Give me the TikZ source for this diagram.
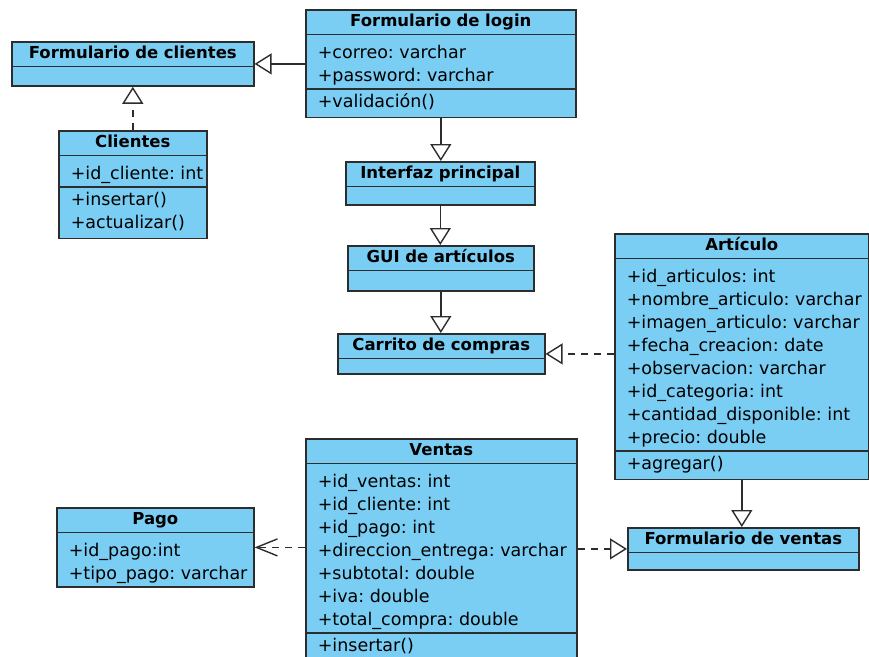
\documentclass[tikz,border=0pt]{standalone}
\usepackage{fontspec}
\setmainfont{DejaVu Sans}
\usetikzlibrary{positioning,shapes.multipart,arrows.meta}

\definecolor{classfill}{RGB}{122,206,244}
\definecolor{classdraw}{RGB}{45,45,45}

\newcommand{\nohyph}{\hyphenpenalty=10000\relax\exhyphenpenalty=10000\relax\spaceskip=\fontdimen2\font\relax}
\newcommand{\classname}[1]{\makebox[\linewidth]{\fontsize{16.5}{20}\selectfont\bfseries\rule[-7pt]{0pt}{23pt}#1}}
\newcommand{\firstrow}{\rule{0pt}{23pt}}
\newcommand{\lastrow}{\rule[-7pt]{0pt}{0pt}}
\newcommand{\firstop}{\rule{0pt}{18pt}}
\newcommand{\lastop}{\rule[-9pt]{0pt}{0pt}}
\newcommand{\nomembers}[1][19pt]{\rule{0pt}{#1}}

\begin{document}
\begin{tikzpicture}[
            x=1pt, y=-1pt,
            umlclass/.style={rectangle split, rectangle split parts=3, draw=classdraw, fill=classfill,
              line width=1.6pt, anchor=north west, inner xsep=12pt, inner ysep=0pt, align=flush left,
              font=\fontsize{17.5}{23}\selectfont\nohyph},
            umlform/.style={umlclass, rectangle split parts=2},
            inherit/.style={draw=classdraw, line width=1.4pt, -{Triangle[open, length=17pt, width=21pt]}},
            realize/.style={inherit, dash pattern=on 7pt off 6pt},
            uses/.style={draw=classdraw, line width=1.4pt, dash pattern=on 7pt off 6pt,
              -{Straight Barb[length=21pt, width=17pt]}}
        ]
            \useasboundingbox (0,0) rectangle (869,656);
            \clip (0,0) rectangle (869,656);

            % Classes (top left corner at the pixel position)
            \node[umlform, text width=218pt] (fclientes) at (11,41)
                {\classname{Formulario de clientes}\nodepart{two}\nomembers[18pt]};
            \node[umlclass, text width=124pt] (clientes) at (58,130)
                {\classname{Clientes}
                 \nodepart{two}\firstrow+id\_cliente:~int\lastrow
                 \nodepart{three}\firstop+insertar()\\+actualizar()\lastop};
            \node[umlclass, text width=246pt] (login) at (305,9)
                {\classname{Formulario de login}
                 \nodepart{two}\firstrow+correo:~varchar\\+password:~varchar\lastrow
                 \nodepart{three}\firstop+validación()\lastop};
            \node[umlform, text width=165pt] (interfaz) at (345,161)
                {\classname{Interfaz principal}\nodepart{two}\nomembers[17pt]};
            \node[umlform, text width=162pt] (gui) at (347,245)
                {\classname{GUI de artículos}\nodepart{two}\nomembers};
            \node[umlform, text width=183pt] (carrito) at (337,333)
                {\classname{Carrito de compras}\nodepart{two}\nomembers[14pt]};
            \node[umlclass, text width=230pt] (articulo) at (614,233)
                {\classname{Artículo}
                 \nodepart{two}\firstrow+id\_articulos:~int\\
                   +nombre\_articulo:~varchar\\
                   +imagen\_articulo:~varchar\\
                   +fecha\_creacion:~date\\
                   +observacion:~varchar\\
                   +id\_categoria:~int\\
                   +cantidad\_disponible:~int\\
                   +precio:~double\lastrow
                 \nodepart{three}\firstop+agregar()\lastop};
            \node[umlform, text width=173pt] (pago) at (56,507)
                {\classname{Pago}
                 \nodepart{two}\firstrow+id\_pago:int\\+tipo\_pago:~varchar\lastrow};
            \node[umlclass, text width=247pt] (ventas) at (305,438)
                {\classname{Ventas}
                 \nodepart{two}\firstrow+id\_ventas:~int\\
                   +id\_cliente:~int\\
                   +id\_pago:~int\\
                   +direccion\_entrega:~varchar\\
                   +subtotal:~double\\
                   +iva:~double\\
                   +total\_compra:~double\lastrow
                 \nodepart{three}\firstop+insertar()\lastop};
            \node[umlform, text width=207pt] (fventas) at (627,527)
                {\classname{Formulario de ventas}\nodepart{two}\nomembers[16pt]};

            % Relations
            \draw[inherit] (login.west |- fclientes.east) -- (fclientes.east);
            \draw[realize] (clientes.north) -- (clientes.north |- fclientes.south);
            \draw[inherit] (login.south) -- (login.south |- interfaz.north);
            \draw[inherit] (interfaz.south) -- (interfaz.south |- gui.north);
            \draw[inherit] (gui.south) -- (gui.south |- carrito.north);
            \draw[realize] (articulo.west |- carrito.east) -- (carrito.east);
            \draw[inherit] (articulo.south) -- (articulo.south |- fventas.north);
            \draw[realize] (ventas.east |- fventas.west) -- (fventas.west);
            \draw[uses] (ventas.west |- pago.east) -- (pago.east);
        \end{tikzpicture}
\end{document}
